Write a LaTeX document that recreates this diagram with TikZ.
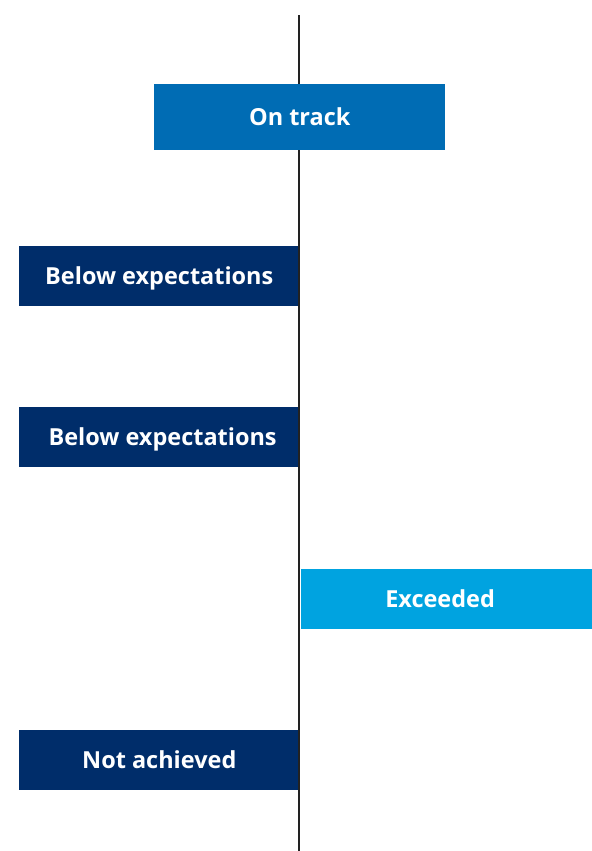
\documentclass[tikz,border=0pt]{standalone}
\usepackage{fontspec}
\setmainfont{Open Sans}
\usetikzlibrary{positioning}
\definecolor{midblue}{HTML}{006CB4}
\definecolor{navy}{HTML}{002D6A}
\definecolor{skyblue}{HTML}{00A3E0}
\definecolor{spinegray}{HTML}{222222}

\begin{document}
\begin{tikzpicture}[
    x=0.75pt, y=-0.75pt,
    status/.style={rectangle, inner sep=0pt, anchor=north west, text=white, text height=12.6pt, text depth=0pt, font=\fontsize{17.6}{19}\selectfont\bfseries},
    spine/.style={draw=spinegray, line width=1.5pt}
]
\useasboundingbox (0,0) rectangle (592,851);

\coordinate (top) at (299,15);
\coordinate (bottom) at (299,851);

\node[status, fill=navy, minimum width=210pt, minimum height=45pt] (below1) at (19,246) {Below expectations};
\node[status, fill=navy, minimum width=210pt, minimum height=45pt] (below2) at (19,407) {\hspace*{5pt}Below expectations};
\node[status, fill=navy, minimum width=210pt, minimum height=45pt] (notach) at (19,730) {Not achieved};

\draw[spine] (top) -- (bottom);

\node[status, fill=midblue, minimum width=218.25pt, minimum height=49.5pt] (ontrack) at (154,84) {On track};
\node[status, fill=skyblue, minimum width=218.25pt, minimum height=45pt] (exceeded) at (301,569) {Exceeded\kern10pt};

\end{tikzpicture}
\end{document}
